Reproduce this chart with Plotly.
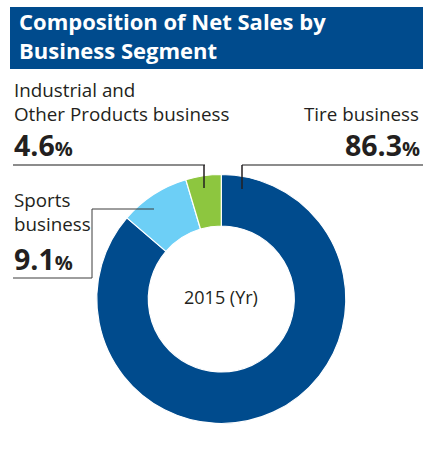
import plotly.graph_objects as go

# Net sales composition, fiscal 2015
segments = ["Tire business", "Sports business", "Industrial and Other Products business"]
shares = [86.3, 9.1, 4.6]
slice_colors = ["#004B8D", "#6DCFF6", "#8DC63F"]
year_label = "2015 (Yr)"
title_lines = ["Composition of Net Sales by", "Business Segment"]

W, H = 423, 454
FONT = "Open Sans"
TEXT = "#231F20"

# donut geometry in pixels
cx, cy, r_out, r_in = 221.3, 299.0, 124.5, 73.0


def px(x):
    return x / W


def py(y):
    return 1 - y / H


fig = go.Figure()
fig.add_trace(go.Pie(
    labels=segments,
    values=shares,
    sort=False,
    direction="clockwise",
    rotation=0,
    hole=r_in / r_out,
    marker=dict(colors=slice_colors, line=dict(color="white", width=1.2)),
    textinfo="none",
    hoverinfo="label+percent",
    showlegend=False,
    domain=dict(x=[px(cx - r_out), px(cx + r_out)], y=[py(cy + r_out), py(cy - r_out)]),
))

shapes = []
# header band
shapes.append(dict(type="rect", xref="paper", yref="paper", x0=px(10), x1=px(423), y0=py(69), y1=py(7),
                   fillcolor="#004B8D", line=dict(width=0), layer="below"))


def seg(x0, y0, x1, y1, color, width):
    shapes.append(dict(type="line", xref="paper", yref="paper", x0=px(x0), y0=py(y0), x1=px(x1), y1=py(y1),
                       line=dict(color=color, width=width)))


# leader lines
seg(13, 165, 205, 165, "#8C8C8C", 2)
seg(204, 165, 204, 188, TEXT, 1.5)
seg(242, 165, 423, 165, "#8C8C8C", 2)
seg(242, 165, 242, 189, TEXT, 1.5)
seg(92, 209, 154, 209, "#3C3C3C", 1)
seg(92, 209, 92, 278, "#3C3C3C", 1)
seg(13, 278, 92, 278, "#3C3C3C", 1)

annotations = []


def label(lines, x, baselines, size, anchor="left", color=TEXT, bold=False):
    # multi-line text is placed by the mean of its line baselines
    text = "<br>".join(lines)
    if bold:
        text = "<br>".join(f"<b>{t}</b>" for t in lines)
    mid = sum(baselines) / len(baselines) - 0.39 * size
    annotations.append(dict(text=text, xref="paper", yref="paper", x=px(x), y=py(mid),
                            xanchor=anchor, yanchor="middle", align=anchor if anchor != "center" else "center",
                            showarrow=False, borderpad=0, font=dict(family=FONT, size=size, color=color)))


def pct(v):
    return f"<b>{v:.1f}</b><span style='font-size:20px'><b>%</b></span>"


tire, sports, industrial = shares

label(title_lines, 18, [32, 57], 22, color="white", bold=True)

label(["Industrial and", "Other Products business"], 13, [97, 121.5], 18.8)
label([pct(industrial)], 13, [156], 28.5)

label(["Tire business"], 420, [121.5], 18.8, anchor="right")
label([pct(tire)], 421, [156], 28.5, anchor="right")

label(["Sports", "business"], 13, [207, 231], 18.8)
label([pct(sports)], 13, [270], 28.5)

label([year_label], cx, [304], 18, anchor="center")

fig.update_layout(
    width=W, height=H,
    margin=dict(l=0, r=0, t=0, b=0),
    paper_bgcolor="white", plot_bgcolor="white",
    shapes=shapes, annotations=annotations,
)

fig.write_html("out.html")
